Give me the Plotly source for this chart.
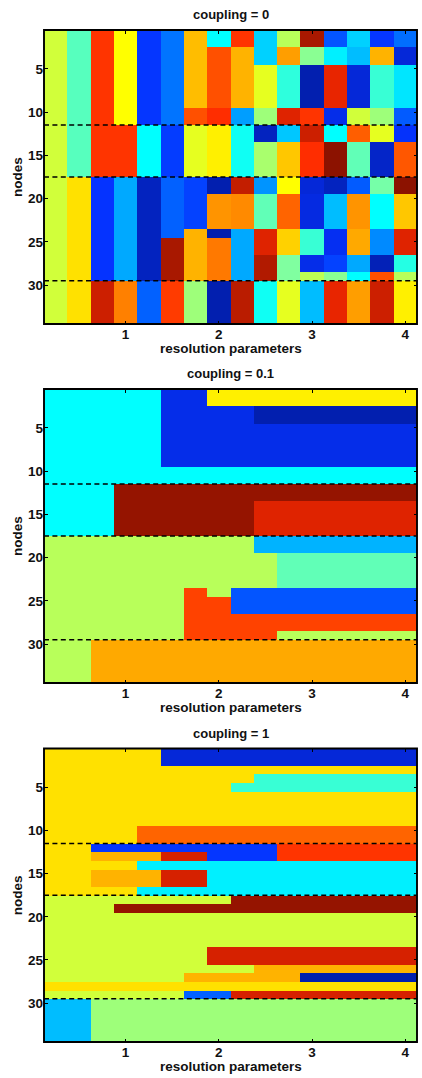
import plotly.graph_objects as go

RESOLUTION = [0.25 * i for i in range(1, 17)]
NODES = list(range(1, 35))
X_TICKS = [1, 2, 3, 4]
Y_TICKS = [5, 10, 15, 20, 25, 30]
SPLITS = [11.5, 17.5, 29.5]
TITLES = ["coupling = 0", "coupling = 0.1", "coupling = 1"]

# Columns as (rows, value) runs read top to bottom.
P0 = [
    [(34, .58)],
    [(17, .46), (17, .655)],
    [(17, .86), (12, .125), (5, .93)],
    [(11, .625), (6, .86), (12, .29), (5, .75)],
    [(11, .13), (6, .375), (12, .05), (5, .2)],
    [(11, .23), (6, .14), (7, .2), (5, .97), (5, .85)],
    [(9, .69), (2, .82), (6, .6), (6, .15), (6, .7), (5, .53)],
    [(2, .375), (7, .82), (2, .87), (6, .64), (2, .03), (4, .73), (1, .03), (5, .76), (5, .03)],
    [(2, .86), (7, .7), (2, .28), (6, .39), (2, .94), (4, .74), (6, .29), (5, .95)],
    [(4, .33), (5, .6), (2, .53), (2, .05), (4, .54), (2, .27), (4, .47), (3, .91), (3, .96), (5, .39)],
    [(2, .555), (2, .72), (5, .42), (2, .91), (2, .32), (4, .68), (2, .625), (4, .79), (3, .67), (3, .5), (5, .6)],
    [(2, .97), (2, .51), (5, .03), (2, .86), (2, .93), (4, .87), (2, .08), (4, .09), (3, .43), (2, .1), (1, .56), (5, .31)],
    [(2, .18), (2, .36), (5, .9), (2, .1), (2, .375), (4, 1.0), (2, .05), (4, .31), (3, .11), (2, .15), (1, .51), (5, .9)],
    [(2, .33), (2, .31), (5, .08), (2, .58), (2, .8), (4, .47), (2, .19), (4, .73), (3, .71), (2, .29), (1, .375), (5, .72)],
    [(2, .13), (2, .7), (5, .43), (2, .53), (2, .6), (4, .06), (2, .49), (4, .375), (3, .26), (2, .04), (1, .82), (5, .93)],
    [(2, .22), (2, .08), (5, .35), (2, .19), (2, .12), (4, .81), (2, 1.0), (4, .68), (3, .91), (2, .41), (1, .555), (5, .64)],
]

# Community values, coupling = 0.1
CY, LG, OR, DR, BL, RO, YE, NV, RD, SK, TE, MB = .375, .555, .71, .99, .1, .84, .64, .03, .91, .3, .47, .18
P1 = [
    [(17, CY), (17, LG)],
    [(17, CY), (17, LG)],
    [(17, CY), (12, LG), (5, OR)],
    [(11, CY), (6, DR), (12, LG), (5, OR)],
    [(11, CY), (6, DR), (12, LG), (5, OR)],
    [(9, BL), (2, CY), (6, DR), (12, LG), (5, OR)],
    [(9, BL), (2, CY), (6, DR), (6, LG), (6, RO), (5, OR)],
    [(2, YE), (7, BL), (2, CY), (6, DR), (7, LG), (5, RO), (5, OR)],
    [(2, YE), (7, BL), (2, CY), (6, DR), (6, LG), (3, MB), (3, RO), (5, OR)],
    [(2, YE), (2, NV), (5, BL), (2, CY), (2, DR), (4, RD), (2, SK), (4, LG), (3, MB), (3, RO), (5, OR)],
] + [
    [(2, YE), (2, NV), (5, BL), (2, CY), (2, DR), (4, RD), (2, SK), (4, TE), (3, MB), (2, RO), (1, LG), (5, OR)]
    for _ in range(6)
]

# Community values, coupling = 1
Y1, LM, GR, SB, B2, O2, O3, C2, TL, R2, B3, R3 = .655, .58, .53, .31, .13, .7, .79, .36, .43, .92, .2, .86
N2, D2, B4 = .03, .99, .08
P2 = [
    [(17, Y1), (10, LM), (1, Y1), (1, LM), (5, SB)],
    [(17, Y1), (10, LM), (1, Y1), (1, LM), (5, SB)],
    [(11, Y1), (1, B2), (1, O2), (1, Y1), (2, O2), (1, Y1), (10, LM), (1, Y1), (1, LM), (5, GR)],
    [(11, Y1), (1, B2), (1, O2), (1, Y1), (2, O2), (1, Y1), (1, LM), (1, D2), (8, LM), (1, Y1), (1, LM), (5, GR)],
    [(9, Y1), (2, O3), (1, B2), (1, O2), (1, C2), (2, O2), (1, C2), (1, LM), (1, D2), (8, LM), (1, Y1), (1, LM), (5, GR)],
    [(2, B4), (7, Y1), (2, O3), (1, B2), (1, R2), (1, C2), (2, R2), (1, C2), (1, LM), (1, D2), (8, LM), (1, Y1), (1, LM), (5, GR)],
    [(2, B4), (7, Y1), (2, O3), (1, B2), (1, R2), (1, C2), (2, R2), (1, C2), (1, LM), (1, D2), (7, LM), (1, O2), (1, Y1), (1, B3), (5, GR)],
    [(2, B4), (7, Y1), (2, O3), (2, B2), (4, C2), (1, LM), (1, D2), (4, LM), (2, R2), (1, LM), (1, O2), (1, Y1), (1, B3), (5, GR)],
    [(2, B4), (2, Y1), (1, TL), (4, Y1), (2, O3), (2, B2), (4, C2), (2, D2), (4, LM), (2, R2), (1, LM), (1, O2), (1, Y1), (1, R2), (5, GR)],
    [(2, B4), (1, Y1), (2, TL), (4, Y1), (2, O3), (2, B2), (4, C2), (2, D2), (4, LM), (2, R2), (2, O2), (1, Y1), (1, R2), (5, GR)],
    [(2, B4), (1, Y1), (2, TL), (4, Y1), (2, O3), (2, R3), (4, C2), (2, D2), (4, LM), (2, R2), (2, O2), (1, Y1), (1, R2), (5, GR)],
] + [
    [(2, B4), (1, Y1), (2, TL), (4, Y1), (2, O3), (2, R3), (4, C2), (2, D2), (4, LM), (2, R2), (1, O2), (1, N2), (1, Y1), (1, R2), (5, GR)]
    for _ in range(5)
]

COLORSCALE = [
    [0.0, "#001a96"], [0.08, "#0528d8"], [0.125, "#0533ff"], [0.25, "#0080ff"],
    [0.375, "#00ffff"], [0.5, "#80ffa0"], [0.625, "#ffff00"], [0.75, "#ff8000"],
    [0.875, "#ff2a00"], [1.0, "#8c1200"],
]


def to_rows(columns):
    cols = []
    for c in columns:
        vals = []
        for n, v in c:
            vals += [v] * n
        assert len(vals) == 34, (c, len(vals))
        cols.append(vals)
    return [list(r) for r in zip(*cols)]


H, W = 1078, 422
PLOT_LEFT, PLOT_RIGHT = 44.0, 417.0
PANELS = [(30, 324), (389, 683), (748.5, 1042)]
FONT = "Liberation Sans, Arial, sans-serif"
TEXT = "#111111"

fig = go.Figure()
layout = dict(
    width=W, height=H, autosize=False,
    margin=dict(l=0, r=0, t=0, b=0),
    paper_bgcolor="white", plot_bgcolor="white",
    showlegend=False,
    font=dict(family=FONT, color=TEXT),
    annotations=[], shapes=[],
)

for i, (data, (top, bot), title) in enumerate(zip([P0, P1, P2], PANELS, TITLES)):
    s = "" if i == 0 else str(i + 1)
    fig.add_trace(go.Heatmap(
        x=RESOLUTION, y=NODES, z=to_rows(data),
        colorscale=COLORSCALE, zmin=0, zmax=1, showscale=False,
        xaxis="x" + s, yaxis="y" + s, hoverinfo="skip",
    ))
    common = dict(
        showgrid=False, zeroline=False, showline=False, mirror="allticks",
        ticks="inside", ticklen=3.5, tickwidth=1.2, tickcolor="black",
        tickfont=dict(family=FONT, size=13.5, color=TEXT, weight="bold"),
    )
    layout["xaxis" + s] = dict(
        common, domain=[PLOT_LEFT / W, PLOT_RIGHT / W], range=[0.125, 4.125],
        anchor="y" + s, tickvals=X_TICKS, ticktext=[str(v) for v in X_TICKS],
    )
    layout["yaxis" + s] = dict(
        common, domain=[1 - bot / H, 1 - top / H], range=[34.5, 0.5],
        anchor="x" + s, tickvals=Y_TICKS, ticktext=[str(v) for v in Y_TICKS],
    )
    mid = (PLOT_LEFT + PLOT_RIGHT) / 2 / W
    bold = dict(family=FONT, size=13.5, color=TEXT, weight="bold")
    layout["annotations"] += [
        dict(text=title, xref="paper", yref="paper", x=mid, y=1 - (top - 15.5) / H,
             xanchor="center", yanchor="middle", showarrow=False,
             font=dict(bold, size=13)),
        dict(text="resolution parameters", xref="paper", yref="paper", x=mid,
             y=1 - (bot + 24.7) / H, xanchor="center", yanchor="middle",
             showarrow=False, font=bold),
        dict(text="nodes", xref="paper", yref="paper", x=17 / W,
             y=1 - (top + bot) / 2 / H, xanchor="center", yanchor="middle",
             textangle=-90, showarrow=False, font=bold),
    ]
    layout["shapes"].append(dict(
        type="rect", xref=f"x{s} domain", yref=f"y{s} domain",
        x0=0, x1=1, y0=0, y1=1,
        line=dict(color="black", width=1.9), fillcolor="rgba(0,0,0,0)",
    ))
    for y in SPLITS:
        layout["shapes"].append(dict(
            type="line", xref="x" + s, yref="y" + s,
            x0=0.125, x1=4.125, y0=y, y1=y,
            line=dict(color="black", width=1.5, dash="5px,3.4px"),
        ))

fig.update_layout(**layout)
fig.write_html("out.html", config={"displayModeBar": False},
               post_script="document.body.style.margin='0';document.body.style.overflow='hidden';window.dispatchEvent(new Event('resize'));")
